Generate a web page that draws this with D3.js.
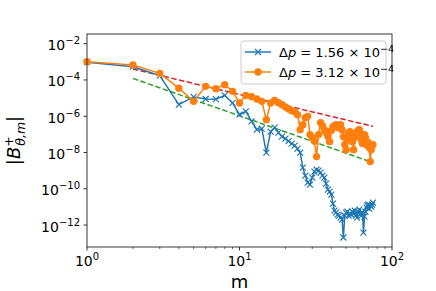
<!DOCTYPE html>
<html>
<head>
<meta charset="utf-8">
<script src="https://cdn.jsdelivr.net/npm/d3@7"></script>
<style>
  body { margin: 0; background: #fff; }
  svg text { font-family: "DejaVu Sans", sans-serif; }
</style>
</head>
<body>
<div class="chart"></div>
<script>
// mode number m (same for both runs)
var modes = d3.range(1, 76);

// |B| for dp = 1.56e-4 (blue, x markers)
var bSmall = [
  9.6e-4, 5.4e-4, 1.73e-4, 4.36e-6, 1.16e-5, 8.97e-6, 8.75e-6, 1.42e-5, 5.41e-6, 1.22e-6,
  1.86e-6, 5.24e-7, 1.82e-7, 2.07e-7, 9.86e-9, 1.42e-7, 2.36e-7, 1.25e-7, 7.52e-8, 5.82e-8,
  4.25e-8, 3.09e-8, 2.4e-8, 1.64e-8, 9.9e-9, 1.47e-9, 5.33e-10, 2.19e-10, 1.7e-10, 4.14e-10,
  8.85e-10, 1.14e-9, 1.0e-9, 7.8e-10, 5.33e-10, 4.14e-10, 1.93e-10, 9.0e-11, 7.0e-11, 4.79e-11,
  1.53e-11, 6.28e-12, 4.88e-12, 3.78e-12, 3.33e-12, 2.59e-12, 2.0e-12, 2.05e-13, 3.33e-12, 4.88e-12,
  5.53e-12, 3.33e-12, 4.3e-12, 3.78e-12, 5.53e-12, 4.3e-12, 6.28e-12, 3.33e-12, 2.59e-12, 5.53e-12,
  7.13e-12, 4.3e-12, 3.33e-12, 4.88e-12, 3.86e-13, 2.94e-12, 5.53e-12, 9.2e-12, 1.19e-11, 1.35e-11,
  8.1e-12, 1.19e-11, 1.04e-11, 1.35e-11, 1.73e-11
];

// |B| for dp = 3.12e-4 (orange, circles)
var bLarge = [
  1.02e-3, 6.7e-4, 2.31e-4, 3.53e-5, 6.62e-6, 4.44e-5, 3.31e-5, 5.51e-5, 2.36e-5, 5.41e-6,
  1.42e-5, 1.2e-5, 8.97e-6, 6.62e-6, 6.49e-7, 5.41e-6, 7.52e-6, 5.61e-6, 4.36e-6, 3.25e-6,
  2.52e-6, 2.03e-6, 1.79e-6, 1.22e-6, 1.82e-7, 3.44e-7, 8.37e-7, 9.86e-7, 9.7e-8, 6.62e-8,
  4.14e-8, 5.94e-9, 9.7e-8, 4.44e-7, 3.03e-7, 1.82e-7, 1.25e-7, 7.52e-8, 3.98e-8, 1.61e-7,
  2.67e-7, 3.03e-7, 3.44e-7, 2.36e-7, 3.03e-7, 3.44e-7, 1.82e-7, 7.52e-8, 2.72e-8, 1.44e-8,
  5.13e-8, 1.25e-7, 1.42e-7, 8.53e-8, 3.98e-8, 1.44e-8, 6.62e-8, 1.1e-7, 1.42e-7, 1.61e-7,
  1.82e-7, 1.1e-7, 5.13e-8, 3.09e-8, 7.52e-8, 9.7e-8, 6.62e-8, 3.98e-8, 2.4e-8, 3.51e-8,
  1.86e-8, 3.15e-9, 1.44e-8, 2.4e-8, 2.72e-8
];

// reference slopes (dashed), end points only
var fitM = [2, 75];
var fitRed = [4.04e-4, 2.77e-7];
var fitGreen = [1.22e-4, 2.77e-9];

var seriesLabels = ["1.56", "3.12"];
var xTicks = [1, 10, 100];
var xTickExp = ["0", "1", "2"];
var yTicks = [1e-12, 1e-10, 1e-8, 1e-6, 1e-4, 1e-2];
var yTickExp = ["−12", "−10", "−8", "−6", "−4", "−2"];

var svgWidth = 436;
var svgHeight = 291;
var margin = { top: 34, right: 44, bottom: 44, left: 87 };
var width = svgWidth - margin.left - margin.right;
var height = svgHeight - margin.top - margin.bottom;

var svg = d3.select(".chart")
  .append("svg")
  .attr("width", svgWidth)
  .attr("height", svgHeight);

var chartGroup = svg.append("g")
  .attr("transform", `translate(${margin.left}, ${margin.top})`);

var xScale = d3.scaleLog().domain([1, 100]).range([0, width]);
var yScale = d3.scaleLog()
  .domain([Math.pow(10, -13.21), Math.pow(10, -1.466)])
  .range([height, 0]);

var blue = "#1f77b4", orange = "#ff7f0e";

// fit lines first
function fitLine(vals, color) {
  var pts = fitM.map(function (m, i) { return { m: m, v: vals[i] }; });
  chartGroup.append("path")
    .datum(pts)
    .attr("fill", "none")
    .attr("stroke", color)
    .attr("stroke-width", 1.5)
    .attr("stroke-dasharray", "5.5,2.4")
    .attr("d", d3.line().x(function (d) { return xScale(d.m); }).y(function (d) { return yScale(d.v); }));
}
fitLine(fitRed, "#d62728");
fitLine(fitGreen, "#2ca02c");

var line = d3.line()
  .x(function (d) { return xScale(d.m); })
  .y(function (d) { return yScale(d.v); });

var dataSmall = modes.map(function (m, i) { return { m: m, v: bSmall[i] }; });
var dataLarge = modes.map(function (m, i) { return { m: m, v: bLarge[i] }; });

function crossPath(cx, cy, s) {
  return `M${cx - s},${cy - s}L${cx + s},${cy + s}M${cx - s},${cy + s}L${cx + s},${cy - s}`;
}

// blue series
chartGroup.append("path")
  .datum(dataSmall)
  .attr("fill", "none")
  .attr("stroke", blue)
  .attr("stroke-width", 1.5)
  .attr("d", line);

chartGroup.selectAll(".xmark")
  .data(dataSmall)
  .enter()
  .append("path")
  .attr("class", "xmark")
  .attr("stroke", blue)
  .attr("stroke-width", 1.2)
  .attr("d", function (d) { return crossPath(xScale(d.m), yScale(d.v), 3); });

// orange series
chartGroup.append("path")
  .datum(dataLarge)
  .attr("fill", "none")
  .attr("stroke", orange)
  .attr("stroke-width", 1.5)
  .attr("d", line);

chartGroup.selectAll(".dot")
  .data(dataLarge)
  .enter()
  .append("circle")
  .attr("class", "dot")
  .attr("cx", function (d) { return xScale(d.m); })
  .attr("cy", function (d) { return yScale(d.v); })
  .attr("r", 3.7)
  .attr("fill", orange);

// frame
chartGroup.append("rect")
  .attr("width", width)
  .attr("height", height)
  .attr("fill", "none")
  .attr("stroke", "#222")
  .attr("stroke-width", 0.9);

// x ticks
var minorX = [];
[1, 10].forEach(function (b) { for (var k = 2; k <= 9; k++) minorX.push(b * k); });

chartGroup.selectAll(".xminor")
  .data(minorX)
  .enter()
  .append("line")
  .attr("x1", function (d) { return xScale(d); })
  .attr("x2", function (d) { return xScale(d); })
  .attr("y1", height)
  .attr("y2", height + 2)
  .attr("stroke", "#222")
  .attr("stroke-width", 0.7);

xTicks.forEach(function (t, i) {
  var xp = xScale(t);
  chartGroup.append("line")
    .attr("x1", xp).attr("x2", xp)
    .attr("y1", height).attr("y2", height + 3.5)
    .attr("stroke", "#222").attr("stroke-width", 0.9);
  var txt = chartGroup.append("text")
    .attr("x", xp)
    .attr("y", height + 19)
    .attr("text-anchor", "middle")
    .attr("font-size", 14)
    .attr("fill", "#000");
  txt.append("tspan").text("10");
  txt.append("tspan").attr("dy", -6).attr("font-size", 10).text(xTickExp[i]);
});

// y ticks
yTicks.forEach(function (t, i) {
  var yp = yScale(t);
  chartGroup.append("line")
    .attr("x1", -3.5).attr("x2", 0)
    .attr("y1", yp).attr("y2", yp)
    .attr("stroke", "#222").attr("stroke-width", 0.9);
  var txt = chartGroup.append("text")
    .attr("x", -7)
    .attr("y", yp + 6.5)
    .attr("text-anchor", "end")
    .attr("font-size", 14)
    .attr("fill", "#000");
  txt.append("tspan").text("10");
  txt.append("tspan").attr("dy", -6).attr("font-size", 10).text(yTickExp[i]);
});

// axis labels
svg.append("text")
  .attr("x", margin.left + width / 2)
  .attr("y", 288)
  .attr("text-anchor", "middle")
  .attr("font-size", 18)
  .text("m");

var yLab = svg.append("text")
  .attr("transform", `translate(20, ${margin.top + height / 2}) rotate(-90)`)
  .attr("text-anchor", "middle")
  .attr("font-size", 18);
yLab.append("tspan").text("|");
yLab.append("tspan").attr("font-style", "italic").text("B");
yLab.append("tspan").attr("dy", -7).attr("font-size", 12.5).text("+");
yLab.append("tspan").attr("dx", -9.5).attr("dy", 11.5).attr("font-size", 12.5).attr("font-style", "italic").text("θ,m");
yLab.append("tspan").attr("dy", -4.5).text("|");

// legend
var legend = svg.append("g").attr("transform", "translate(241, 41)");
legend.append("rect")
  .attr("width", 145)
  .attr("height", 43)
  .attr("rx", 3)
  .attr("fill", "#fff")
  .attr("fill-opacity", 0.8)
  .attr("stroke", "#ccc")
  .attr("stroke-width", 1);

seriesLabels.forEach(function (lab, i) {
  var ly = 11 + i * 20;
  var col = i === 0 ? blue : orange;
  legend.append("line")
    .attr("x1", 4).attr("x2", 30)
    .attr("y1", ly).attr("y2", ly)
    .attr("stroke", col).attr("stroke-width", 1.5);
  if (i === 0) {
    legend.append("path")
      .attr("stroke", col).attr("stroke-width", 1.2)
      .attr("d", crossPath(17, ly, 3));
  } else {
    legend.append("circle")
      .attr("cx", 17).attr("cy", ly).attr("r", 3.7).attr("fill", col);
  }
  var t = legend.append("text")
    .attr("x", 38)
    .attr("y", ly + 4.5)
    .attr("font-size", 13);
  t.append("tspan").text("Δ");
  t.append("tspan").attr("font-style", "italic").text("p");
  t.append("tspan").text(" = " + lab + " × 10");
  t.append("tspan").attr("dy", -5).attr("font-size", 9.5).text("−4");
});
</script>
</body>
</html>
